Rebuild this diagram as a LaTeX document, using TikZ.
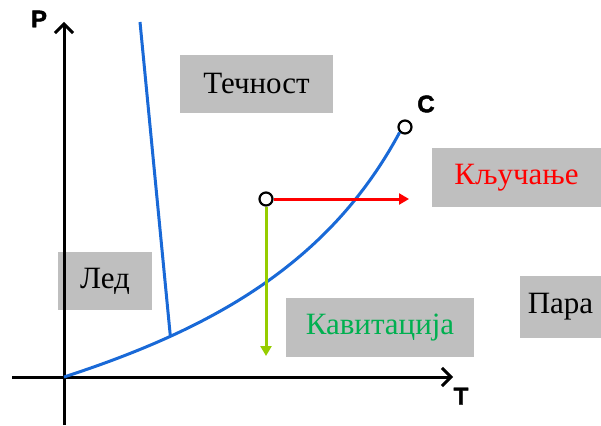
\documentclass[tikz,border=0pt]{standalone}
\usepackage{fontspec}
\setmainfont{Liberation Serif}
\newfontfamily\labelfont[BoldFeatures={FakeBold=2}]{Liberation Sans}
\usetikzlibrary{arrows.meta}
\definecolor{boxgray}{RGB}{191,191,191}
\definecolor{curveblue}{RGB}{25,105,215}
\definecolor{cavgreen}{RGB}{0,176,80}
\definecolor{arrowgreen}{RGB}{150,205,0}
\tikzset{
  region/.style={fill=boxgray, draw=none, inner sep=0pt, font=\fontsize{31}{31}\selectfont},
  axis/.style={line width=3pt, -{Straight Barb[length=9pt, width=18pt, line width=3pt]}},
  phaseline/.style={curveblue, line width=3pt},
  statept/.style={circle, draw=black, fill=white, line width=2.2pt, minimum size=13pt, inner sep=0pt},
  axislabel/.style={font=\labelfont\bfseries\fontsize{24}{24}\selectfont},
  process/.style={line width=3pt, -{Triangle[length=10pt, width=11pt]}}
}
\begin{document}
\begin{tikzpicture}[x=1pt, y=-1pt]
  \useasboundingbox (0,0) rectangle (601,425);

  % region labels
  \node[region, minimum width=153pt, minimum height=58pt] (liquid) at (256.5,84) {Течност};
  \node[region, minimum width=169pt, minimum height=59pt, text=red] (boil) at (516.5,177.5) {Кључање};
  \node[region, minimum width=94pt, minimum height=58pt] (ice) at (105,281) {Лед};
  \node[region, minimum width=81pt, minimum height=62pt] (vapour) at (560.5,307) {Пара};
  \node[region, minimum width=188pt, minimum height=59pt, text=cavgreen] (cav) at (380,327.5) {Кавитација};

  % axes
  \coordinate (O) at (64,377);
  \coordinate (ybot) at (64,425);
  \coordinate (ytop) at (64,22);
  \coordinate (xleft) at (12,377);
  \coordinate (xright) at (453,377);
  \draw[axis] (ybot) -- (ytop);
  \draw[axis] (xleft) -- (xright);
  \node[axislabel] (plabel) at (39,19) {P};
  \node[axislabel] (tlabel) at (461,396) {T};

  % saturation curve up to the critical point
  \node[statept] (crit) at (405,127) {};
  \node[axislabel] (clabel) at (426,104) {C};
  \draw[phaseline] (O) .. controls (215,328) and (330,262) .. (crit.south west)
    coordinate[pos=0.25] (triple);

  % melting line
  \coordinate (mtop) at (140,22);
  \draw[phaseline] (mtop) -- (triple);

  % state point with boiling and cavitation paths
  \node[statept] (state) at (266,199) {};
  \coordinate (boilend) at (409,199);
  \coordinate (cavend) at (266,356);
  \draw[process, red] (state.east) -- (boilend);
  \draw[process, arrowgreen] (state.south) -- (cavend);
\end{tikzpicture}
\end{document}
